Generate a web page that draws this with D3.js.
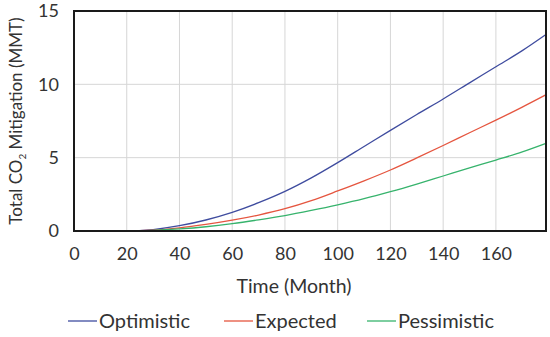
<!DOCTYPE html>
<html>
<head>
<meta charset="utf-8">
<script src="https://cdn.jsdelivr.net/npm/d3@7"></script>
<style>
  body { margin: 0; background: #fff; }
  text { font-family: Lato, "Open Sans", sans-serif; fill: #333; }
</style>
</head>
<body>
<svg id="chart" width="550" height="337"></svg>
<script>
// values, every 10 months
const months      = [0, 10, 20, 30, 40, 50, 60, 70, 80, 90, 100, 110, 120, 130, 140, 150, 160, 170, 179];
const optimistic  = [0, 0, 0, 0.1, 0.36, 0.75, 1.27, 1.93, 2.7, 3.62, 4.66, 5.76, 6.86, 7.94, 9.0, 10.1, 11.2, 12.3, 13.4];
const expected    = [0, 0, 0, 0.05, 0.21, 0.45, 0.74, 1.09, 1.52, 2.07, 2.73, 3.42, 4.16, 4.98, 5.83, 6.7, 7.56, 8.45, 9.29];
const pessimistic = [0, 0, 0, 0.04, 0.14, 0.29, 0.5, 0.76, 1.05, 1.4, 1.78, 2.2, 2.68, 3.2, 3.75, 4.3, 4.84, 5.4, 5.98];
const xTicks = [0, 20, 40, 60, 80, 100, 120, 140, 160];
const yTicks = [0, 5, 10, 15];
const seriesNames = ["Optimistic", "Expected", "Pessimistic"];
const colors = ["#3f4c9f", "#e5553f", "#36b36c"];

const svg = d3.select("#chart");
const m = {left: 74, right: 4, top: 11, bottom: 106};
const W = 550, H = 337;
const x = d3.scaleLinear().domain([0, 179]).range([m.left, W - m.right]);
const y = d3.scaleLinear().domain([0, 15]).range([H - m.bottom, m.top]);

// grid
svg.append("g").selectAll("line").data(xTicks.filter(d => d > 0)).join("line")
  .attr("x1", d => x(d)).attr("x2", d => x(d))
  .attr("y1", y(0)).attr("y2", y(15))
  .attr("stroke", "#d6d6d6").attr("stroke-width", 1);
svg.append("g").selectAll("line").data(yTicks.filter(d => d > 0 && d < 15)).join("line")
  .attr("x1", x(0)).attr("x2", x(179))
  .attr("y1", d => y(d)).attr("y2", d => y(d))
  .attr("stroke", "#d6d6d6").attr("stroke-width", 1);

// axes, text only
const xAxis = svg.append("g").attr("transform", `translate(0,${y(0)})`)
  .call(d3.axisBottom(x).tickValues(xTicks).tickSize(0).tickPadding(16));
const yAxis = svg.append("g").attr("transform", `translate(${x(0)},0)`)
  .call(d3.axisLeft(y).tickValues(yTicks).tickSize(0).tickPadding(15));
[xAxis, yAxis].forEach(a => {
  a.select(".domain").remove();
  a.selectAll("text").style("font-family", "Lato, 'Open Sans', sans-serif")
    .style("font-size", "18px").attr("fill", "#333");
});

// lines
const line = d3.line().x((d, i) => x(months[i])).y(d => y(d)).curve(d3.curveMonotoneX);
[optimistic, expected, pessimistic].forEach((s, i) => {
  svg.append("path").datum(s).attr("d", line)
    .attr("fill", "none").attr("stroke", colors[i]).attr("stroke-width", 1.3);
});

// frame
svg.append("rect").attr("x", x(0)).attr("y", y(15))
  .attr("width", x(179) - x(0)).attr("height", y(0) - y(15))
  .attr("fill", "none").attr("stroke", "#1a1a1a").attr("stroke-width", 2);

// axis titles
svg.append("text").attr("x", 294).attr("y", 293)
  .attr("text-anchor", "middle").style("font-size", "19.5px").text("Time (Month)");
const yl = svg.append("text").attr("transform", `translate(22,${(y(0) + y(15)) / 2}) rotate(-90)`)
  .attr("text-anchor", "middle").style("font-size", "17px");
yl.append("tspan").text("Total CO");
yl.append("tspan").attr("dy", 4).style("font-size", "10px").text("2");
yl.append("tspan").attr("dy", -4).text(" Mitigation (MMT)");

// legend
const legX = [68, 224, 367];
seriesNames.forEach((n, i) => {
  svg.append("line").attr("x1", legX[i]).attr("x2", legX[i] + 29)
    .attr("y1", 321).attr("y2", 321).attr("stroke", colors[i]).attr("stroke-width", 1.3);
  svg.append("text").attr("x", legX[i] + 31).attr("y", 328)
    .style("font-size", "20px").attr("fill", "#555").text(n);
});
</script>
</body>
</html>
